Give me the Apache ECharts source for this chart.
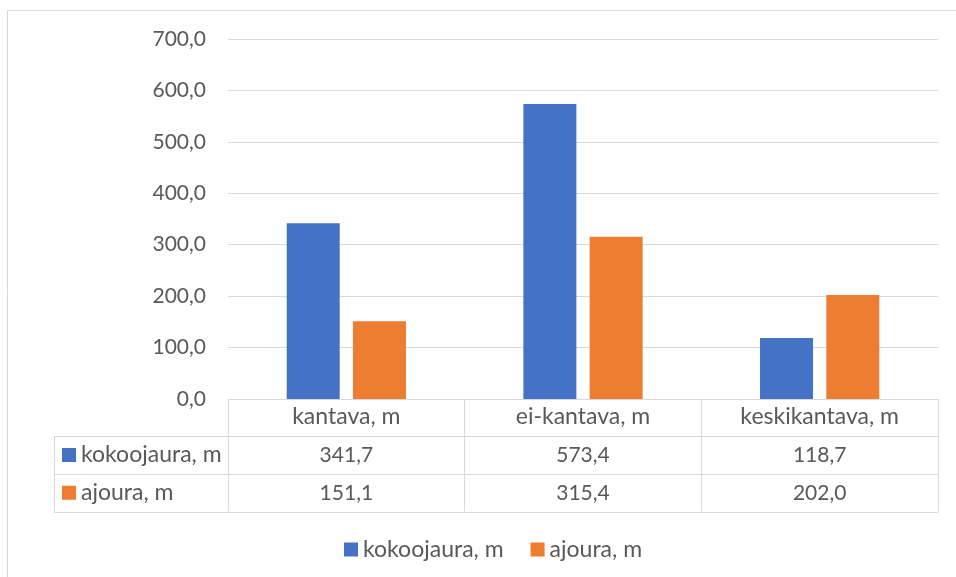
<!DOCTYPE html>
<html>
<head>
<meta charset="utf-8">
<script src="https://cdn.jsdelivr.net/npm/echarts@6/dist/echarts.min.js"></script>
<style>
  html, body { margin: 0; padding: 0; background: #fff; }
  #chart { width: 956px; height: 577px; }
</style>
</head>
<body>
<div id="chart"></div>
<script>
// Categories and series values
const categories = ['kantava, m', 'ei-kantava, m', 'keskikantava, m'];
const seriesNames = ['kokoojaura, m', 'ajoura, m'];
const kokoojaura = [341.7, 573.4, 118.7];
const ajoura = [151.1, 315.4, 202.0];
const seriesColors = ['#4472C4', '#ED7D31'];
const yMin = 0, yMax = 700, yStep = 100;

const FONT = 'Lato, "Liberation Sans", sans-serif';
const TEXT = '#595959';
const LINE = '#D9D9D9';
const FS_NUM = 21;   // numeric labels
const FS_TXT = 23;   // word labels

const fmt = v => v.toFixed(1).replace('.', ',');

// Plot area and data table geometry
const gridLeft = 228, gridRight = 938, gridTop = 39, gridBottom = 399;
const tableLeft = 54;
const rowBounds = [399, 436, 474, 511.5];

const chart = echarts.init(document.getElementById('chart'), null, { renderer: 'canvas' });

const seriesData = [kokoojaura, ajoura];

chart.setOption({
  animation: false,
  textStyle: { fontFamily: FONT },
  grid: { left: gridLeft, right: 956 - gridRight, top: gridTop, bottom: 577 - gridBottom, containLabel: false },
  legend: {
    data: seriesNames,
    bottom: 16,
    left: 344,
    icon: 'rect',
    itemWidth: 14,
    itemHeight: 14,
    itemGap: 27,
    padding: 0,
    textStyle: { color: TEXT, fontSize: FS_TXT, fontFamily: FONT }
  },
  xAxis: {
    type: 'category',
    data: categories,
    axisLine: { lineStyle: { color: LINE, width: 1 } },
    axisTick: { show: true, length: rowBounds[3] - rowBounds[0], lineStyle: { color: LINE, width: 1 } },
    axisLabel: { color: TEXT, fontSize: FS_TXT, fontFamily: FONT, margin: 6 }
  },
  yAxis: {
    type: 'value',
    min: yMin, max: yMax, interval: yStep,
    axisLine: { show: false },
    axisTick: { show: false },
    axisLabel: { color: TEXT, fontSize: FS_NUM, fontFamily: FONT, margin: 22, formatter: v => fmt(v) },
    splitLine: { lineStyle: { color: LINE, width: 1 } }
  },
  series: seriesNames.map((name, i) => ({
    name,
    type: 'bar',
    data: seriesData[i],
    barWidth: '22.4%',
    barGap: '25%',
    itemStyle: { color: seriesColors[i] }
  }))
});

// Data table below the axis, built from the same arrays
const graphics = [];
// outer chart frame
graphics.push({
  type: 'rect', silent: true,
  shape: { x: 7.5, y: 10.5, width: 1000, height: 1000 },
  style: { fill: 'none', stroke: LINE, lineWidth: 1 }
});
// horizontal row lines spanning the series-name column
for (let r = 1; r < rowBounds.length; r++) {
  const y = Math.round(rowBounds[r]) + 0.5;
  graphics.push({
    type: 'line', silent: true,
    shape: { x1: tableLeft, y1: y, x2: gridRight, y2: y },
    style: { stroke: LINE, lineWidth: 1 }
  });
}
// left edge of series-name column
graphics.push({
  type: 'line', silent: true,
  shape: { x1: tableLeft + 0.5, y1: rowBounds[1], x2: tableLeft + 0.5, y2: rowBounds[3] },
  style: { stroke: LINE, lineWidth: 1 }
});

seriesNames.forEach((name, i) => {
  const yc = (rowBounds[i + 1] + rowBounds[i + 2]) / 2;
  graphics.push({
    type: 'rect', silent: true,
    shape: { x: 62, y: yc - 7, width: 14, height: 14 },
    style: { fill: seriesColors[i] }
  });
  graphics.push({
    type: 'text', silent: true,
    style: { text: name, x: 81, y: yc, textAlign: 'left', textVerticalAlign: 'middle', fill: TEXT, font: FS_TXT + 'px ' + FONT }
  });
  categories.forEach((cat, j) => {
    const xc = chart.convertToPixel({ xAxisIndex: 0 }, cat);
    graphics.push({
      type: 'text', silent: true,
      style: { text: fmt(seriesData[i][j]), x: xc, y: yc, textAlign: 'center', textVerticalAlign: 'middle', fill: TEXT, font: FS_NUM + 'px ' + FONT }
    });
  });
});

chart.setOption({ graphic: graphics });
</script>
</body>
</html>
